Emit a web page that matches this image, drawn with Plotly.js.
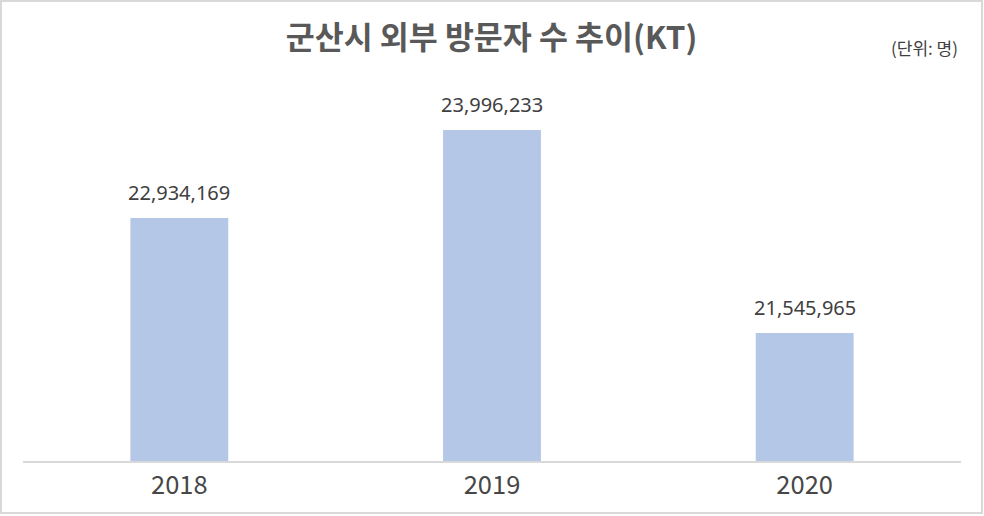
<!DOCTYPE html>
<html>
<head>
<meta charset="utf-8">
<script src="https://cdn.plot.ly/plotly-3.0.1.min.js"></script>
<style>
  body { margin: 0; background: #fff; }
  #chart { width: 979px; height: 510px; border: 2px solid #d9d9d9; }
</style>
</head>
<body>
<div id="chart"></div>
<script>
var years = ['2018', '2019', '2020'];
var visitors = [22934169, 23996233, 21545965];
var labels = ['22,934,169', '23,996,233', '21,545,965'];

var trace1 = {
  x: years,
  y: visitors,
  type: 'bar',
  marker: { color: '#b4c7e7' },
  hoverinfo: 'none'
};

// value labels above the bars (x = category index on the category axis)
var valueLabels = [];
for (var i = 0; i < years.length; i++) {
  valueLabels.push({
    x: i,
    y: visitors[i],
    text: labels[i],
    showarrow: false,
    yanchor: 'bottom',
    yshift: 10,
    font: { family: 'Noto Sans, sans-serif', size: 20, color: '#404040' }
  });
}

valueLabels.push({
  xref: 'paper', yref: 'paper',
  x: 0.999, y: 0.9976,
  xanchor: 'right', yanchor: 'middle',
  text: '(단위: 명)',
  showarrow: false,
  font: { family: 'Noto Sans CJK KR, sans-serif', size: 17, color: '#404040' }
});

var layout = {
  width: 979,
  height: 510,
  margin: { l: 21, r: 20, t: 45, b: 51 },
  paper_bgcolor: '#fff',
  plot_bgcolor: '#fff',
  bargap: 0.687,
  showlegend: false,
  title: {
    text: '군산시 외부 방문자 수 추이(KT)',
    x: 0.5, xanchor: 'center',
    y: 0.929, yref: 'container', yanchor: 'middle',
    font: { family: 'Noto Sans CJK KR, sans-serif', size: 31.5, color: '#595959', weight: 'bold' }
  },
  xaxis: {
    type: 'category',
    range: [-0.5, 2.5],
    autorange: false,
    showline: true,
    linecolor: '#d9d9d9',
    linewidth: 2,
    ticks: '',
    tickfont: { family: 'Noto Sans CJK KR, sans-serif', size: 25.5, color: '#474747' },
    fixedrange: true
  },
  yaxis: {
    range: [20000000, 25000000],
    autorange: false,
    visible: false,
    showgrid: false,
    zeroline: false,
    fixedrange: true
  },
  annotations: valueLabels
};

Plotly.newPlot('chart', [trace1], layout, { displayModeBar: false, staticPlot: true });
</script>
</body>
</html>
